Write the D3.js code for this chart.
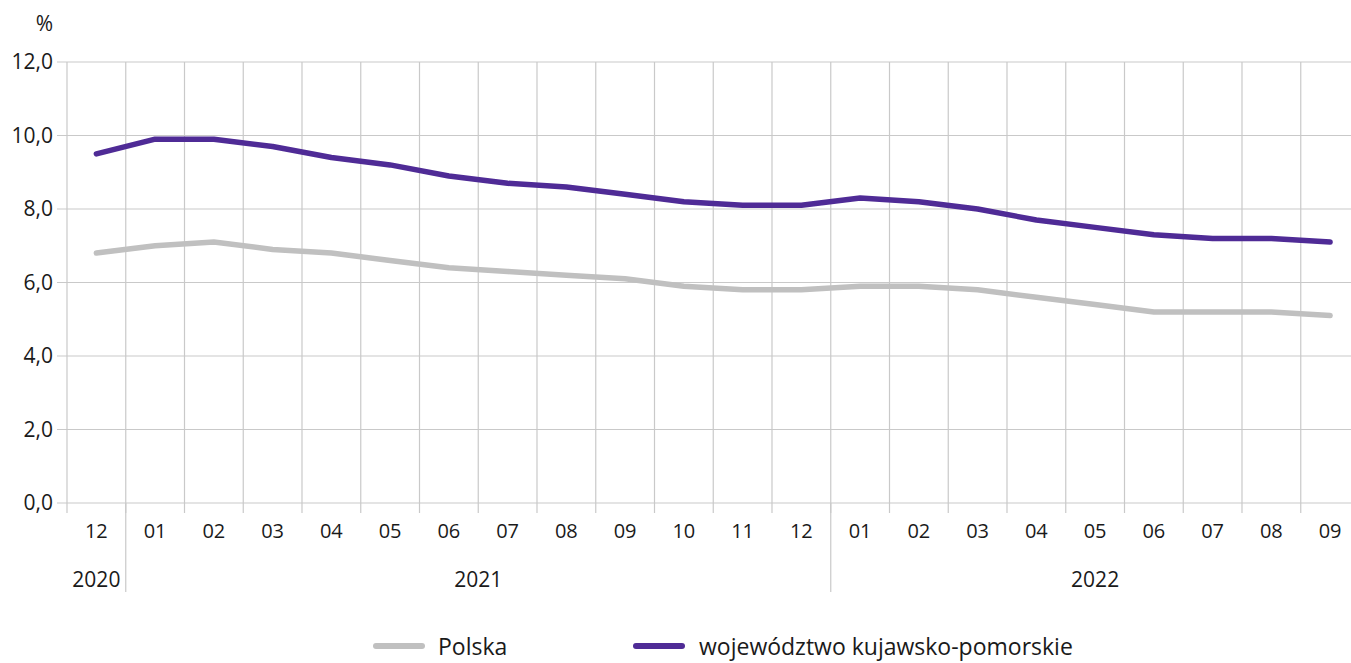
<!DOCTYPE html>
<html><head><meta charset="utf-8">
<script src="https://cdn.jsdelivr.net/npm/d3@7"></script>
<style>body{margin:0;background:#fff}svg{display:block}text{font-family:"Open Sans",sans-serif;fill:#1a1a1a}</style>
</head><body>
<svg id="c" width="1351" height="663"></svg>
<script>
const months = ["12","01","02","03","04","05","06","07","08","09","10","11","12","01","02","03","04","05","06","07","08","09"];
const years = [{label:"2020", from:0, to:1},{label:"2021", from:1, to:13},{label:"2022", from:13, to:22}];
const polska = [6.8,7.0,7.1,6.9,6.8,6.6,6.4,6.3,6.2,6.1,5.9,5.8,5.8,5.9,5.9,5.8,5.6,5.4,5.2,5.2,5.2,5.1];
const kujawsko = [9.5,9.9,9.9,9.7,9.4,9.2,8.9,8.7,8.6,8.4,8.2,8.1,8.1,8.3,8.2,8.0,7.7,7.5,7.3,7.2,7.2,7.1];
const yTicks = [0,2,4,6,8,10,12];
const seriesNames = ["Polska","województwo kujawsko-pomorskie"];
const colors = ["#c0c0c0","#4f2b96"];

(function(){
const svg = d3.select("#c");
const pLeft = 67, step = 58.75, pTop = 62, pBottom = 503;
const idx = months.map((d,i)=>i);
const x = d3.scaleBand().domain(idx).range([pLeft, pLeft + step*months.length]).padding(0);
const y = d3.scaleLinear().domain([0,12]).range([pBottom, pTop]);
const grid = "#c9c9c9";

svg.append("g").selectAll("line").data(yTicks).join("line")
  .attr("x1", pLeft-10).attr("x2", 1351).attr("y1", d=>y(d)).attr("y2", d=>y(d))
  .attr("stroke", grid).attr("stroke-width", 1.2);
const bounds = d3.range(months.length).map(i => x(i));
svg.append("g").selectAll("line").data(bounds).join("line")
  .attr("x1", d=>d).attr("x2", d=>d).attr("y1", pTop).attr("y2", pBottom+10)
  .attr("stroke", grid).attr("stroke-width", 1.2);
svg.append("g").selectAll("line").data(years.slice(1)).join("line")
  .attr("x1", d=>x(d.from)).attr("x2", d=>x(d.from)).attr("y1", pBottom).attr("y2", 592)
  .attr("stroke", grid).attr("stroke-width", 1.2);

svg.append("g").selectAll("text").data(yTicks).join("text")
  .attr("x", 53).attr("y", d=>y(d)).attr("dy","0.35em").attr("text-anchor","end")
  .style("font-size","21px").text(d=>d3.format(".1f")(d).replace(".",","));
svg.append("text").attr("x", 44.5).attr("y", 24).attr("dy","0.35em").attr("text-anchor","middle")
  .style("font-size","21px").text("%");

svg.append("g").selectAll("text").data(months).join("text")
  .attr("x", (d,i)=>x(i)+x.bandwidth()/2).attr("y", 531).attr("dy","0.35em").attr("text-anchor","middle")
  .style("font-size","20px").text(d=>d);
svg.append("g").selectAll("text").data(years).join("text")
  .attr("x", d=>(x(d.from) + pLeft + step*d.to)/2).attr("y", 580).attr("dy","0.35em").attr("text-anchor","middle")
  .style("font-size","21px").text(d=>d.label);

const line = d3.line().x((d,i)=>x(i)+x.bandwidth()/2).y(d=>y(d));
[polska, kujawsko].forEach((s,k)=>{
  svg.append("path").datum(s).attr("d", line).attr("fill","none")
    .attr("stroke", colors[k]).attr("stroke-width", 5.5)
    .attr("stroke-linecap","round").attr("stroke-linejoin","round");
});

const leg = [{x:376, tx:438},{x:636, tx:699}];
leg.forEach((l,k)=>{
  svg.append("line").attr("x1", l.x).attr("x2", l.x+46).attr("y1", 646).attr("y2", 646)
    .attr("stroke", colors[k]).attr("stroke-width", 6).attr("stroke-linecap","round");
  svg.append("text").attr("x", l.tx).attr("y", 647).attr("dy","0.35em")
    .style("font-size","23px").text(seriesNames[k]);
});
})();
</script>
</body></html>
